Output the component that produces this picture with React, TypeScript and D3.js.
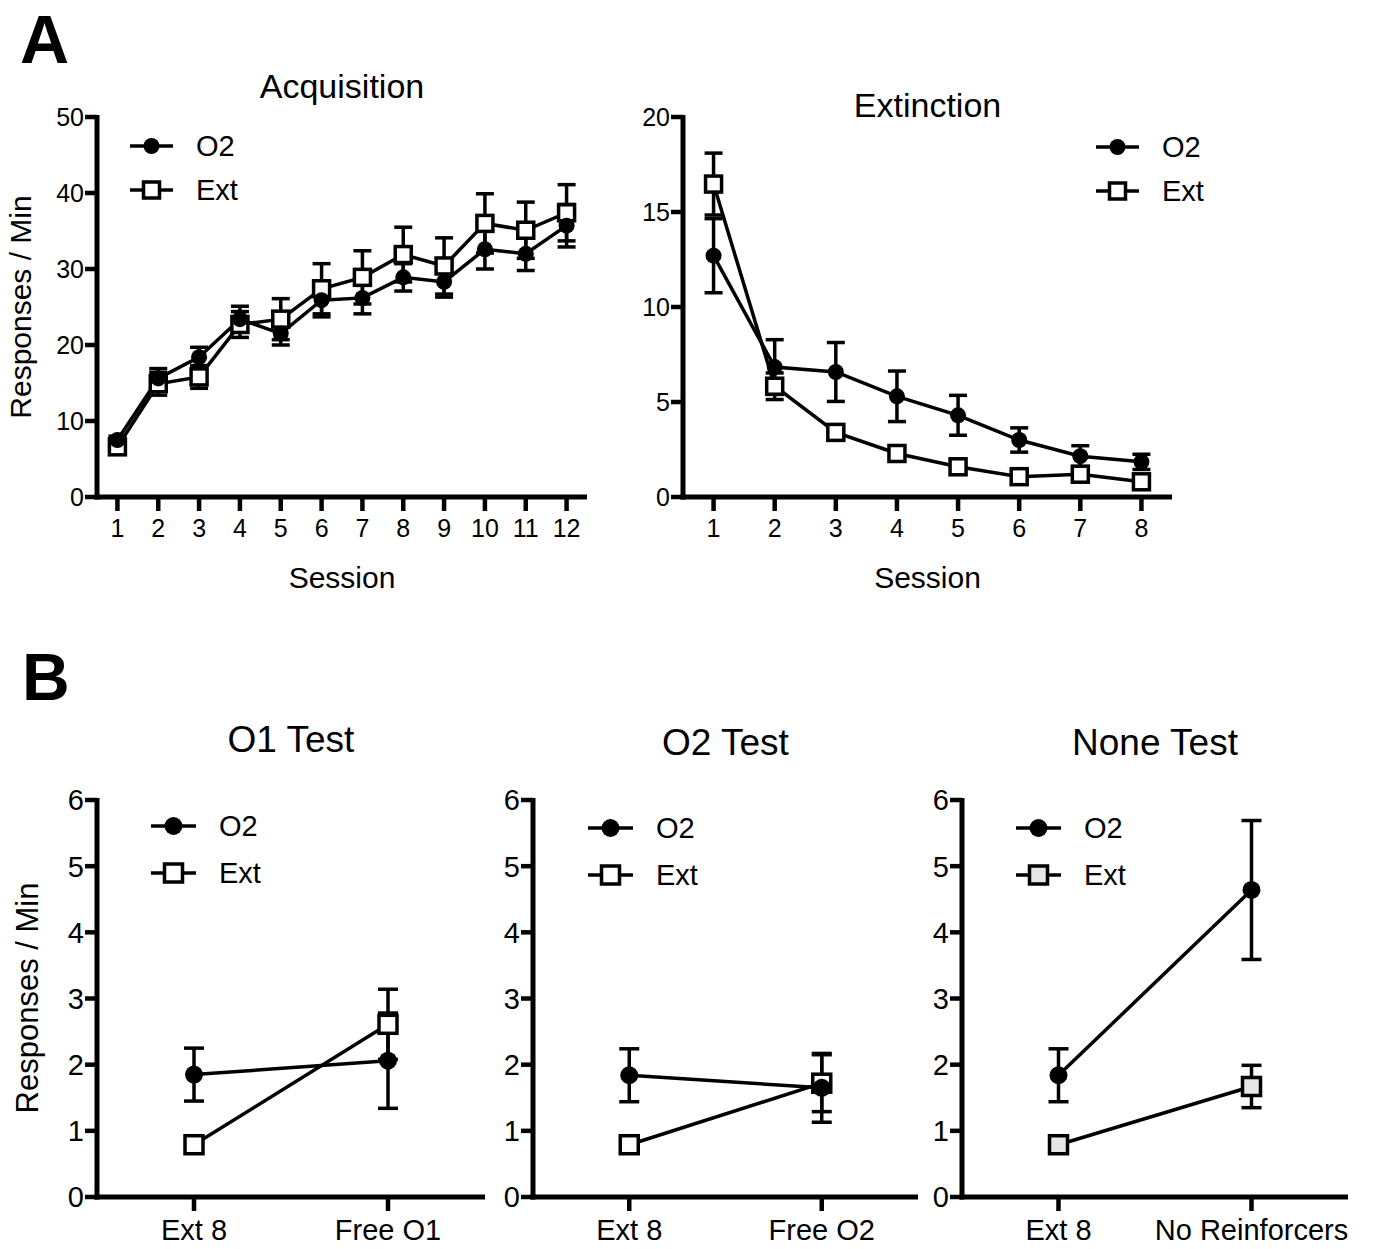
import React from "react";
import * as d3 from "d3";

const FONT = "'Liberation Sans', Arial, Helvetica, sans-serif";

// ---- Panel A: acquisition ----
const acqSessions = ["1", "2", "3", "4", "5", "6", "7", "8", "9", "10", "11", "12"];
const acqO2 = [7.5, 15.6, 18.4, 23.4, 21.5, 25.9, 26.2, 28.9, 28.3, 32.6, 32.0, 35.7];
const acqO2Sem = [0.5, 1.3, 1.3, 1.7, 1.5, 2.2, 2.1, 1.8, 2.0, 2.6, 2.2, 2.8];
const acqExt = [6.6, 14.9, 15.8, 22.7, 23.4, 27.4, 28.9, 31.9, 30.4, 36.0, 35.1, 37.4];
const acqExtSem = [0.5, 1.5, 1.5, 1.7, 2.7, 3.3, 3.5, 3.6, 3.7, 3.9, 3.7, 3.7];
const acqYTicks = [0, 10, 20, 30, 40, 50];

// ---- Panel A: extinction ----
const extSessions = ["1", "2", "3", "4", "5", "6", "7", "8"];
const extO2 = [12.7, 6.84, 6.58, 5.3, 4.3, 3.0, 2.15, 1.85];
const extO2Sem = [1.95, 1.44, 1.55, 1.33, 1.05, 0.64, 0.55, 0.4];
const extExt = [16.47, 5.83, 3.4, 2.29, 1.59, 1.07, 1.2, 0.8];
const extExtSem = [1.63, 0.7, 0.2, 0.15, 0.15, 0.1, 0.1, 0.1];
const extYTicks = [0, 5, 10, 15, 20];

// ---- Panel B: tests ----
const o1Cats = ["Ext 8", "Free O1"];
const o1O2 = [1.85, 2.06];
const o1O2Sem = [0.4, 0.72];
const o1Ext = [0.79, 2.61];
const o1ExtSem = [0.05, 0.53];

const o2Cats = ["Ext 8", "Free O2"];
const o2O2 = [1.84, 1.65];
const o2O2Sem = [0.4, 0.52];
const o2Ext = [0.79, 1.72];
const o2ExtSem = [0.05, 0.43];

const noneCats = ["Ext 8", "No Reinforcers"];
const noneO2 = [1.84, 4.64];
const noneO2Sem = [0.4, 1.05];
const noneExt = [0.79, 1.67];
const noneExtSem = [0.05, 0.32];

const bYTicks = [0, 1, 2, 3, 4, 5, 6];

type Series = {
  name: string;
  values: number[];
  sem: number[];
  shape: "circle" | "square";
  fill: string;
};

type PanelProps = {
  cats: string[];
  series: Series[];
  x0: number;
  x1: number;
  yTop: number;
  yBottom: number;
  yMax: number;
  yTicks: number[];
  title: string;
  titleY: number;
  titleSize: number;
  tickSize: number;
  xTickSize: number;
  xTickY: number;
  xLabel?: string;
  legendX: number;
  legendY: number;
  legendGap: number;
  legendLen: number;
  legendTextDx: number;
  legendSize: number;
  r: number;
  cap: number;
};

const Marker = ({ shape, fill, cx, cy, r }: { shape: string; fill: string; cx: number; cy: number; r: number }) =>
  shape === "circle" ? (
    <circle cx={cx} cy={cy} r={r} fill="#000" />
  ) : (
    <rect x={cx - r} y={cy - r} width={2 * r} height={2 * r} fill={fill} stroke="#000" strokeWidth={3.5} />
  );

const Panel = (p: PanelProps) => {
  const x = d3.scalePoint<string>().domain(p.cats).range([p.x0, p.x1]).padding(0.5);
  const y = d3.scaleLinear().domain([0, p.yMax]).range([p.yBottom, p.yTop]);
  const line = d3
    .line<number>()
    .x((_, i) => x(p.cats[i]) as number)
    .y(d => y(d));

  // Ext drawn first so O2 sits on top
  const order = [...p.series].reverse();

  return (
    <g fontFamily={FONT}>
      <text x={(p.x0 + p.x1) / 2} y={p.titleY} fontSize={p.titleSize} textAnchor="middle">
        {p.title}
      </text>

      {/* axes */}
      <line x1={p.x0} x2={p.x0} y1={p.yTop - 2} y2={p.yBottom + 2.5} stroke="#000" strokeWidth={5} />
      <line x1={p.x0 - 2.5} x2={p.x1} y1={p.yBottom} y2={p.yBottom} stroke="#000" strokeWidth={5} />
      {p.yTicks.map(t => (
        <g key={t}>
          <line x1={p.x0 - 12} x2={p.x0} y1={y(t)} y2={y(t)} stroke="#000" strokeWidth={4.5} />
          <text x={p.x0 - 13} y={y(t)} dy="0.36em" fontSize={p.tickSize} textAnchor="end">
            {t}
          </text>
        </g>
      ))}
      {p.cats.map(c => (
        <g key={c}>
          <line x1={x(c)} x2={x(c)} y1={p.yBottom} y2={p.yBottom + 14} stroke="#000" strokeWidth={4.5} />
          <text x={x(c)} y={p.xTickY} fontSize={p.xTickSize} textAnchor="middle">
            {c}
          </text>
        </g>
      ))}
      {p.xLabel && (
        <text x={(p.x0 + p.x1) / 2} y={p.yBottom + 91} fontSize={30} textAnchor="middle">
          {p.xLabel}
        </text>
      )}

      {/* data */}
      {order.map(s => (
        <g key={s.name}>
          {s.values.map((v, i) => {
            const cx = x(p.cats[i]) as number;
            const lo = y(v - s.sem[i]);
            const hi = y(v + s.sem[i]);
            return (
              <g key={i} stroke="#000" strokeWidth={3.5}>
                <line x1={cx} x2={cx} y1={lo} y2={hi} />
                <line x1={cx - p.cap} x2={cx + p.cap} y1={lo} y2={lo} />
                <line x1={cx - p.cap} x2={cx + p.cap} y1={hi} y2={hi} />
              </g>
            );
          })}
          <path d={line(s.values) ?? ""} fill="none" stroke="#000" strokeWidth={3.5} />
        </g>
      ))}
      {order.map(s => (
        <g key={s.name + "-m"}>
          {s.values.map((v, i) => (
            <Marker key={i} shape={s.shape} fill={s.fill} cx={x(p.cats[i]) as number} cy={y(v)} r={p.r} />
          ))}
        </g>
      ))}

      {/* legend */}
      {p.series.map((s, i) => {
        const ly = p.legendY + i * p.legendGap;
        return (
          <g key={s.name + "-lg"}>
            <line x1={p.legendX} x2={p.legendX + p.legendLen} y1={ly} y2={ly} stroke="#000" strokeWidth={3.5} />
            <Marker shape={s.shape} fill={s.fill} cx={p.legendX + p.legendLen / 2} cy={ly} r={p.r} />
            <text x={p.legendX + p.legendTextDx} y={ly} dy="0.36em" fontSize={p.legendSize}>
              {s.name}
            </text>
          </g>
        );
      })}
    </g>
  );
};

const mk = (o2: number[], o2Sem: number[], ext: number[], extSem: number[], extFill = "#fff"): Series[] => [
  { name: "O2", values: o2, sem: o2Sem, shape: "circle", fill: "#000" },
  { name: "Ext", values: ext, sem: extSem, shape: "square", fill: extFill },
];

const aCommon = {
  yTop: 117,
  yBottom: 497,
  titleSize: 34,
  tickSize: 25,
  xTickSize: 25,
  xTickY: 537,
  legendGap: 44,
  legendLen: 43,
  legendTextDx: 66,
  legendSize: 29,
  r: 8,
  cap: 9,
};

const bCommon = {
  yTop: 800,
  yBottom: 1197,
  yMax: 6,
  yTicks: bYTicks,
  titleSize: 37,
  tickSize: 29,
  xTickSize: 29,
  xTickY: 1240,
  legendGap: 47,
  legendLen: 45,
  legendTextDx: 68,
  legendSize: 29,
  r: 9,
  cap: 10,
};

export default function App() {
  return (
    <svg
      width={1373}
      height={1249}
      style={{ position: "absolute", left: 0, top: 0, background: "#fff" }}
    >
      <rect width={1373} height={1249} fill="#fff" />
      <text x={20} y={63} fontFamily={FONT} fontWeight="bold" fontSize={68}>
        A
      </text>
      <text x={22} y={700} fontFamily={FONT} fontWeight="bold" fontSize={66}>
        B
      </text>

      <text
        transform="translate(31,307) rotate(-90)"
        fontFamily={FONT}
        fontSize={30}
        textAnchor="middle"
      >
        Responses / Min
      </text>
      <text
        transform="translate(38,998) rotate(-90)"
        fontFamily={FONT}
        fontSize={31}
        textAnchor="middle"
      >
        Responses / Min
      </text>

      <Panel
        {...aCommon}
        cats={acqSessions}
        series={mk(acqO2, acqO2Sem, acqExt, acqExtSem)}
        x0={97}
        x1={587}
        yMax={50}
        yTicks={acqYTicks}
        title="Acquisition"
        titleY={98}
        xLabel="Session"
        legendX={130}
        legendY={146}
      />
      <Panel
        {...aCommon}
        cats={extSessions}
        series={mk(extO2, extO2Sem, extExt, extExtSem)}
        x0={683}
        x1={1172}
        yMax={20}
        yTicks={extYTicks}
        title="Extinction"
        titleY={117}
        xLabel="Session"
        legendX={1096}
        legendY={147}
      />

      <Panel
        {...bCommon}
        cats={o1Cats}
        series={mk(o1O2, o1O2Sem, o1Ext, o1ExtSem)}
        x0={97}
        x1={485}
        title="O1 Test"
        titleY={752}
        legendX={151}
        legendY={826}
      />
      <Panel
        {...bCommon}
        cats={o2Cats}
        series={mk(o2O2, o2O2Sem, o2Ext, o2ExtSem)}
        x0={533}
        x1={918}
        title="O2 Test"
        titleY={755}
        legendX={588}
        legendY={828}
      />
      <Panel
        {...bCommon}
        cats={noneCats}
        series={mk(noneO2, noneO2Sem, noneExt, noneExtSem, "#e6e6e6")}
        x0={962}
        x1={1348}
        title="None Test"
        titleY={755}
        legendX={1016}
        legendY={828}
      />
    </svg>
  );
}
